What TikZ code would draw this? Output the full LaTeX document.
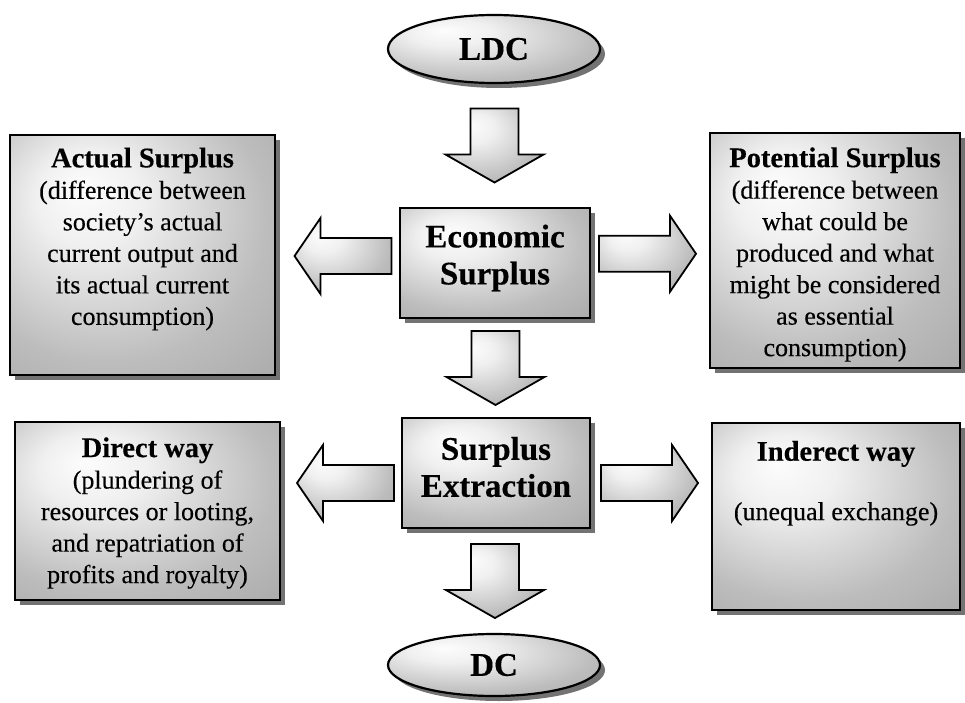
\documentclass[tikz,border=0pt]{standalone}
\usepackage{fontspec}
\setmainfont{Liberation Serif}[FakeBold=0.3]
\usetikzlibrary{shadows,shapes.geometric,calc}
\pgfdeclareradialshading{glow}{\pgfpoint{-12bp}{14bp}}{%
  color(0bp)=(black!1); color(10bp)=(black!6); color(30bp)=(black!26); color(50bp)=(black!37); color(65bp)=(black!39)}
\begin{document}
\begin{tikzpicture}[x=1pt,y=-1pt,
  box/.style={draw=black, line width=2.2pt, shading=glow, inner sep=0pt,
    drop shadow={shadow xshift=5pt, shadow yshift=-5pt, fill=black!55, opacity=1}},
  oval/.style={box, ellipse},
  arrsty/.style={draw=black, line width=1.8pt, shading=glow, line join=miter},
  body/.style={align=center, inner sep=0pt, font=\fontsize{26}{31.5}\selectfont},
  big/.style={align=center, inner sep=0pt, font=\fontsize{33}{37}\selectfont\bfseries},
  darrow/.pic={\path[arrsty] (-24,-37) -- (24,-37) -- (24,9) -- (49,9) -- (0,37) -- (-49,9) -- (-24,9) -- cycle;},
  larrow/.pic={\path[arrsty] (48,-18) -- (48,18) -- (-23,18) -- (-23,38) -- (-49,0) -- (-23,-38) -- (-23,-18) -- cycle;},
  rarrow/.pic={\path[arrsty] (-48,-18) -- (-48,18) -- (23,18) -- (23,38) -- (49,0) -- (23,-38) -- (23,-18) -- cycle;}
]
\useasboundingbox (0,0) rectangle (965,703);
\clip (0,0) rectangle (965,703);

% ellipses
\node[oval, minimum width=212pt, minimum height=68pt] (ldc) at (494,49) {};
\node[big] at (ldc.center) {LDC};
\node[oval, minimum width=212pt, minimum height=62pt] (dc) at (494,665) {};
\node[big] at (dc.center) {DC};

% boxes
\node[box, minimum width=265pt, minimum height=240pt] (actual) at (142.5,255) {};
\node[box, minimum width=190pt, minimum height=110pt] (econ) at (495,263) {};
\node[box, minimum width=250pt, minimum height=235pt] (pot) at (835,250.5) {};
\node[box, minimum width=265pt, minimum height=178pt] (direct) at (147.5,511) {};
\node[box, minimum width=188pt, minimum height=110pt] (ext) at (496,473) {};
\node[box, minimum width=248pt, minimum height=187pt] (ind) at (836,516.5) {};

% texts
\node[body] at ($(actual.center)+(0,-16)$) {{\fontsize{28.5}{31.5}\selectfont\bfseries Actual Surplus}\\(difference between\\society’s actual\\current output and\\its actual current\\consumption)};
\node[big] at ($(econ.center)+(0,-5)$) {Economic\\Surplus};
\node[body] at ($(pot.center)+(0,4)$) {{\fontsize{28.5}{31.5}\selectfont\bfseries Potential Surplus}\\(difference between\\what could be\\produced and what\\might be considered\\as essential\\consumption)};
\node[body] at ($(direct.center)+(0,2)$) {{\fontsize{28.5}{31.5}\selectfont\bfseries Direct way}\\(plundering of\\resources or looting,\\and repatriation of\\profits and royalty)};
\node[big] at ($(ext.center)+(0,-6)$) {Surplus\\Extraction};
\node[body] (indt) at ($(ind.north)+(0,32)$) {\fontsize{28.5}{31.5}\selectfont\bfseries Inderect way};
\node[body] at ($(ind.north)+(0,92)$) {(unequal exchange)};

% block arrows
\pic at ($(ldc.south)!0.5!(econ.north)$) {darrow};
\pic at ($(econ.south)!0.5!(ext.north)$) {darrow};
\pic at ($(ext.south)!0.5!(dc.north)$) {darrow};
\pic at ($($(actual.east)!0.5!(econ.west)$)+(6,-3)$) {larrow};
\pic at ($($(econ.east)!0.5!(pot.west)$)+(-3,-3)$) {rarrow};
\pic at ($($(direct.east|-ext.center)!0.5!(ext.west)$)+(5,10)$) {larrow};
\pic at ($($(ext.east)!0.5!(ind.west|-ext.center)$)+(-2,10)$) {rarrow};
\end{tikzpicture}
\end{document}
